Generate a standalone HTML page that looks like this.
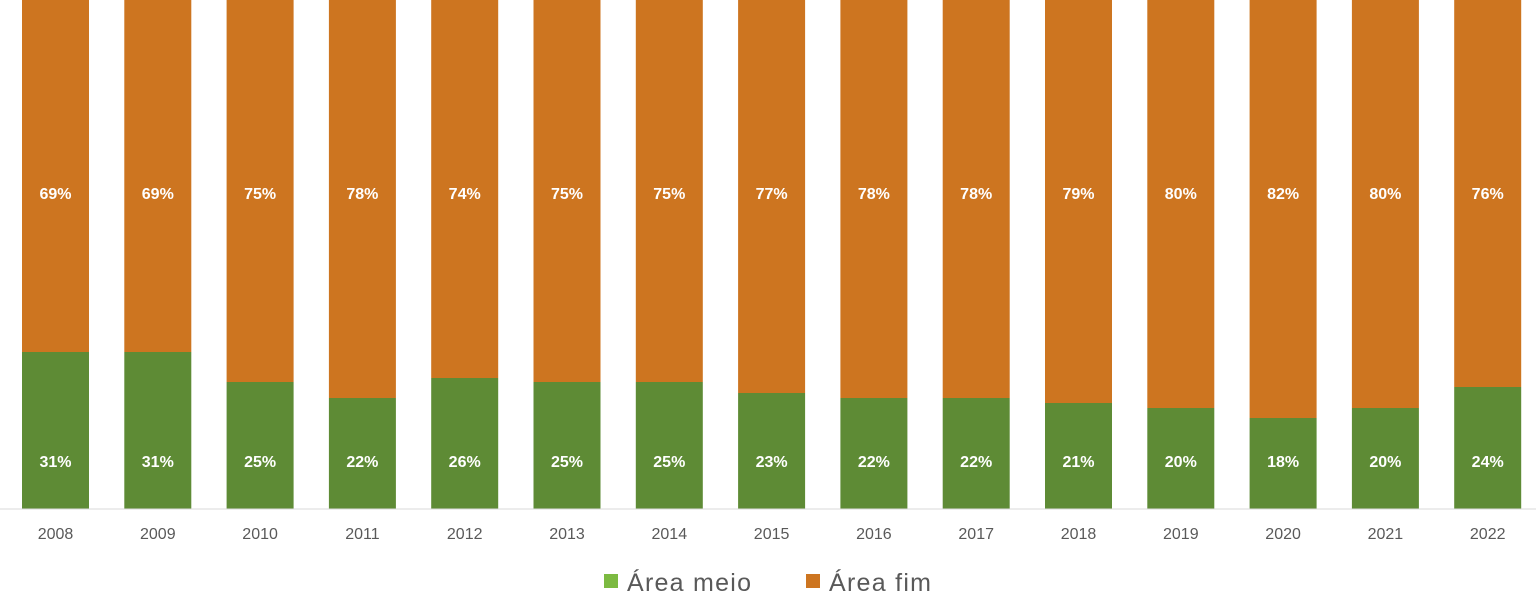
<!DOCTYPE html>
<html><head><meta charset="utf-8"><style>
html,body{margin:0;padding:0;background:#fff;}
svg{display:block;font-family:"Liberation Sans",sans-serif;}
.l{fill:#fff;font-weight:bold;font-size:16px;text-anchor:middle;}
.y{fill:#595959;font-size:16px;text-anchor:middle;}
.g{fill:#595959;font-size:25px;}
</style></head><body>
<svg width="1536" height="601" viewBox="0 0 1536 601" xmlns="http://www.w3.org/2000/svg">
<g id="bars"></g>
<line x1="0" y1="509" x2="1536" y2="509" stroke="#d9d9d9" stroke-width="1"/>
<rect x="604" y="574" width="14" height="14" fill="#7cba41"/>
<text class="g" x="627" y="591" textLength="124">Área meio</text>
<rect x="806" y="574" width="14" height="14" fill="#cd7520"/>
<text class="g" x="829" y="591" textLength="102">Área fim</text>
</svg>
<script>
var yrs=[2008,2009,2010,2011,2012,2013,2014,2015,2016,2017,2018,2019,2020,2021,2022];
var tops=[352,352,382,398,378,382,382,393,398,398,403,408,418,408,387];
var o=["69%","69%","75%","78%","74%","75%","75%","77%","78%","78%","79%","80%","82%","80%","76%"];
var g=["31%","31%","25%","22%","26%","25%","25%","23%","22%","22%","21%","20%","18%","20%","24%"];
var s="";
for(var i=0;i<15;i++){
 var x=22+i*102.3, c=x+33.5;
 s+='<rect x="'+x+'" y="0" width="67" height="'+tops[i]+'" fill="#cd7520"/>';
 s+='<rect x="'+x+'" y="'+tops[i]+'" width="67" height="'+(509-tops[i])+'" fill="#5e8b35"/>';
 s+='<text class="l" x="'+c+'" y="199">'+o[i]+'</text>';
 s+='<text class="l" x="'+c+'" y="467">'+g[i]+'</text>';
 s+='<text class="y" x="'+c+'" y="539">'+yrs[i]+'</text>';
}
document.getElementById("bars").innerHTML=s;
</script>
</body></html>
